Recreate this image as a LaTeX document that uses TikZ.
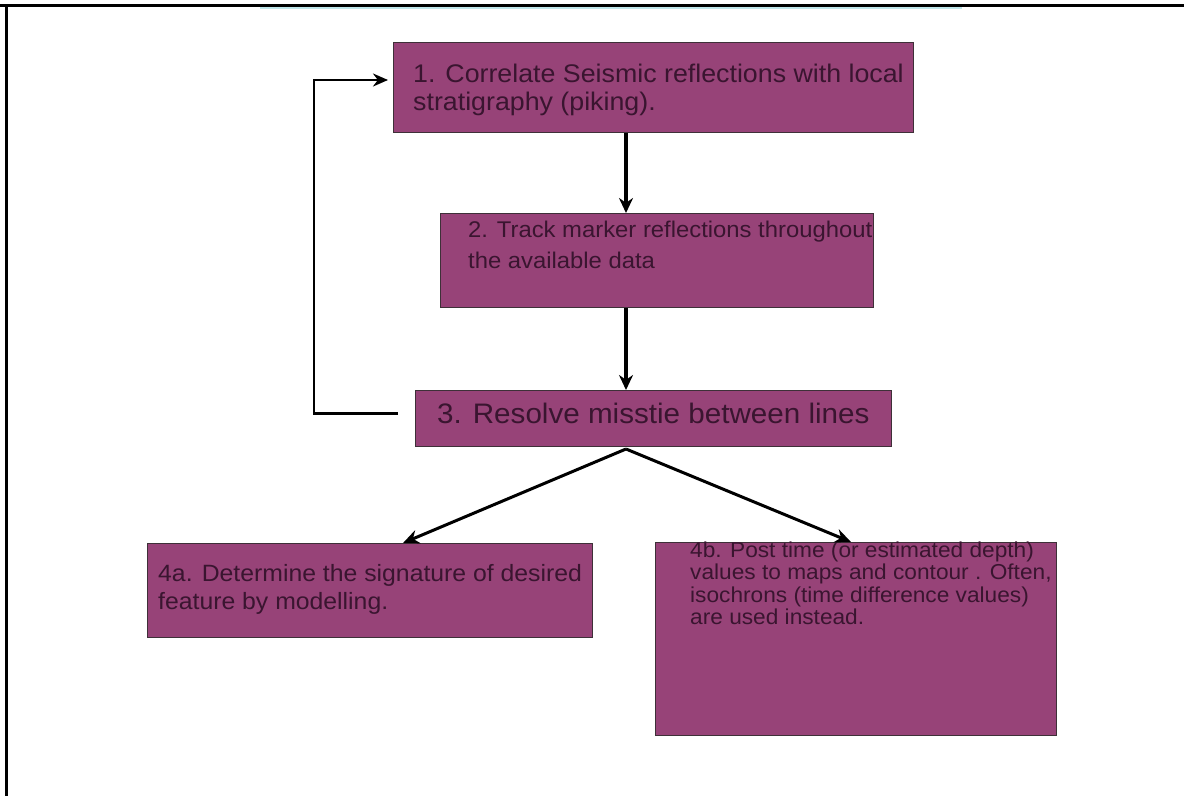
\documentclass[tikz,border=0pt]{standalone}
\usepackage{fontspec}
\setmainfont{Liberation Sans}
\usetikzlibrary{arrows.meta}
\definecolor{boxfill}{HTML}{974378}
\definecolor{boxedge}{HTML}{3E3038}
\definecolor{txtcol}{HTML}{3A1530}
\definecolor{faint}{HTML}{BFE6EA}
\newcommand{\boxtext}[3]{\scalebox{1.05}[1]{\parbox[t]{600pt}{\raggedright\fontsize{#1}{#2}\selectfont #3}}}
\tikzset{
  box/.style={draw=boxedge, line width=0.8pt, fill=boxfill, rectangle, inner sep=0pt, anchor=north west},
  txt/.style={anchor=base west, inner sep=0pt, text=txtcol},
  arr/.style={draw=black, line width=3.4pt, -{Stealth[length=15pt,width=14pt]}},
  thinarr/.style={draw=black, line width=2.4pt, -{Stealth[length=15pt,width=13pt]}},
  diagarr/.style={draw=black, line width=3pt, -{Stealth[length=16pt,width=14pt]}},
  frame/.style={draw=black, line width=3pt}
}
\begin{document}
\begin{tikzpicture}[x=1pt,y=-1pt]
\useasboundingbox (0,0) rectangle (1184,796);
% frame
\draw[faint, line width=2pt] (260,8) -- (962,8);
\draw[frame] (0,5) -- (1184,5);
\draw[frame] (6,5) -- (6,796);
% boxes
\node[box, minimum width=520pt, minimum height=90pt] (b1) at (393,42) {};
\node[box, minimum width=433pt, minimum height=94pt] (b2) at (440,213) {};
\node[box, minimum width=476pt, minimum height=56pt] (b3) at (415,390) {};
\node[box, minimum width=445pt, minimum height=94pt] (b4a) at (147,543) {};
\node[box, minimum width=401pt, minimum height=193pt] (b4b) at (655,542) {};
% texts
\node[txt] (t1) at (413,82) {\boxtext{25.5pt}{28.5pt}{1. Correlate Seismic reflections with local\\stratigraphy (piking).}};
\node[txt] (t2) at (468,237) {\boxtext{22.7pt}{31pt}{2. Track marker reflections throughout\\the available data}};
\node[txt] (t3) at (437,423) {\boxtext{28.2pt}{30pt}{3. Resolve misstie between lines}};
\node[txt] (t4a) at (158,581) {\boxtext{23.6pt}{28pt}{4a. Determine the signature of desired\\feature by modelling.}};
\node[txt] (t4b) at (690,557) {\boxtext{21.6pt}{22.5pt}{4b. Post time (or estimated depth)\\values to maps and contour . Often,\\isochrons (time difference values)\\are used instead.}};
% connectors
\coordinate (ax) at (626,0);
\coordinate (apex) at (626,449);
\coordinate (tipA) at (403,542);
\coordinate (tipB) at (851,542);
\coordinate (fbx) at (314,0);
\coordinate (fby) at (0,80);
\coordinate (fbs) at ([xshift=-17pt,yshift=5pt]b3.west);
\draw[arr] (b1.south -| ax) -- (b2.north -| ax);
\draw[arr] (b2.south -| ax) -- (b3.north -| ax);
\draw[diagarr] (apex) -- (b4a.north -| tipA);
\draw[diagarr] (apex) -- (b4b.north -| tipB);
\draw[thinarr] (fbs) -- (fbs -| fbx) -- (fbx |- fby) -- ([xshift=-5pt]b1.west |- fby);
\end{tikzpicture}
\end{document}
